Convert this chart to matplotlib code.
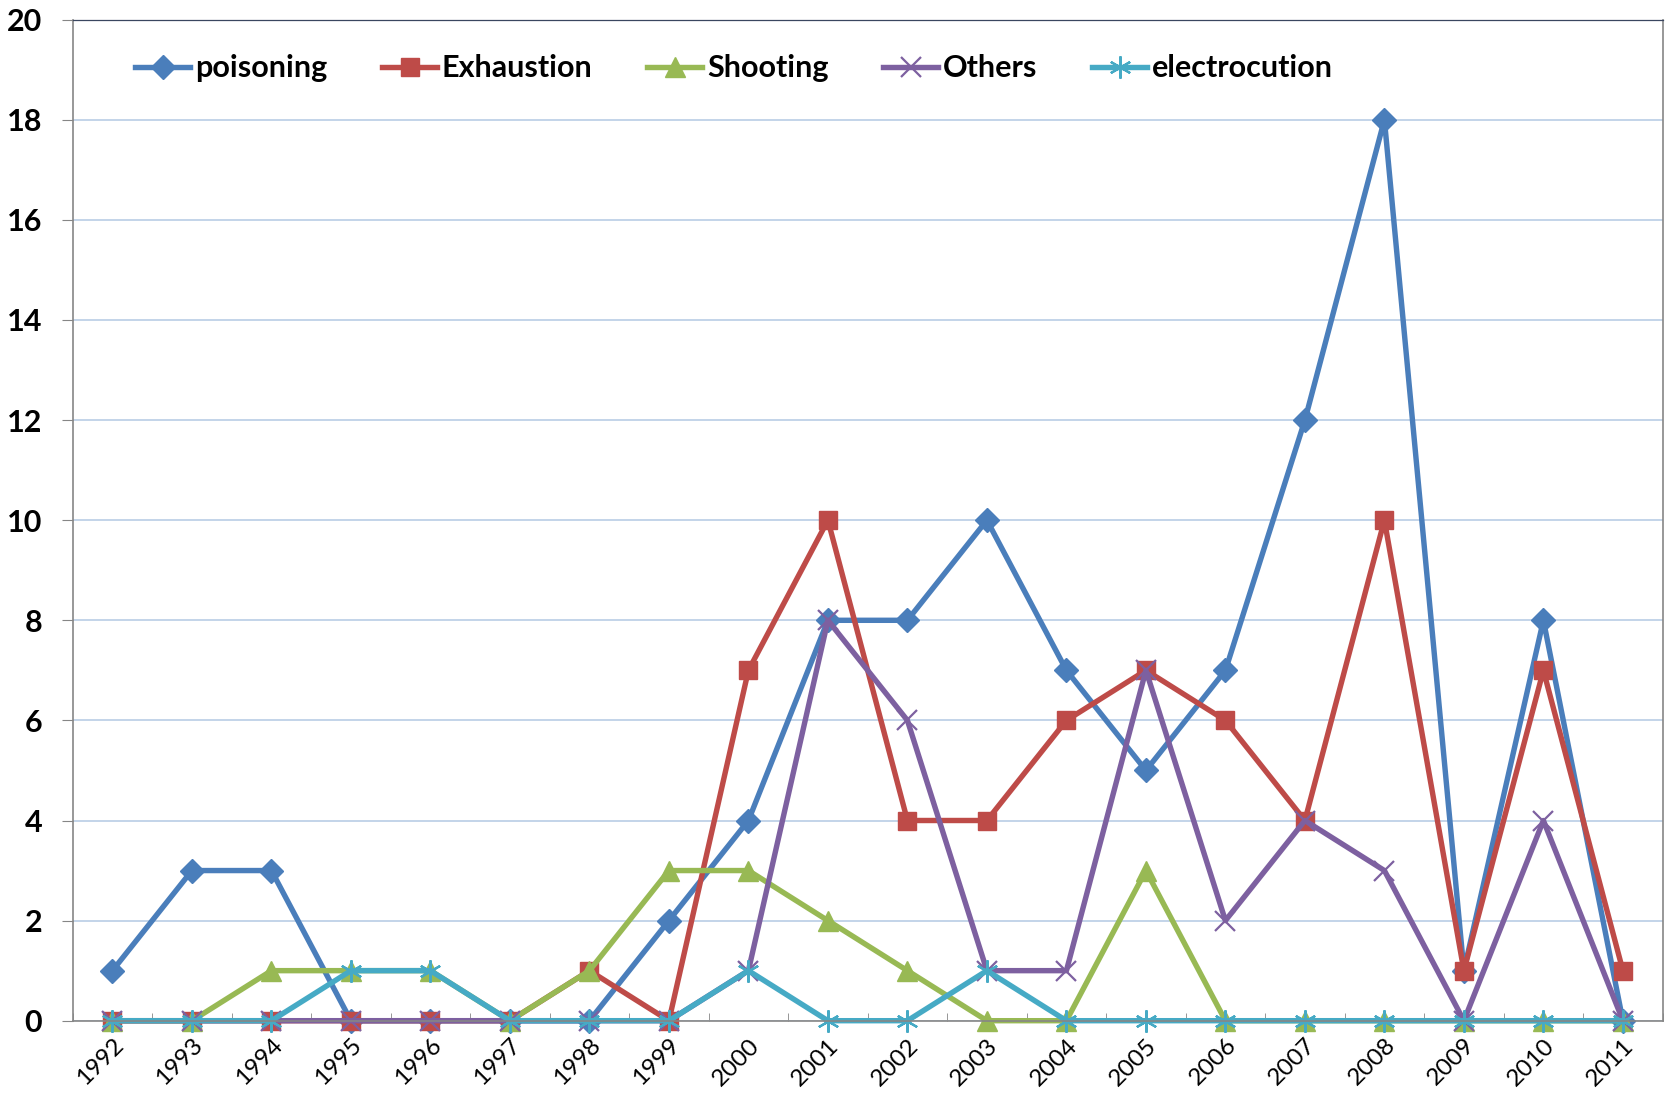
import matplotlib
matplotlib.use("Agg")
import matplotlib.pyplot as plt
from matplotlib.ticker import MultipleLocator, FixedLocator

plt.rcParams['font.family'] = ['Lato', 'DejaVu Sans']

years = list(range(1992, 2012))
poisoning = [1, 3, 3, 0, 0, 0, 0, 2, 4, 8, 8, 10, 7, 5, 7, 12, 18, 1, 8, 0]
exhaustion = [0, 0, 0, 0, 0, 0, 1, 0, 7, 10, 4, 4, 6, 7, 6, 4, 10, 1, 7, 1]
shooting = [0, 0, 1, 1, 1, 0, 1, 3, 3, 2, 1, 0, 0, 3, 0, 0, 0, 0, 0, 0]
others = [0, 0, 0, 0, 0, 0, 0, 0, 1, 8, 6, 1, 1, 7, 2, 4, 3, 0, 4, 0]
electrocution = [0, 0, 0, 1, 1, 0, 0, 0, 1, 0, 0, 1, 0, 0, 0, 0, 0, 0, 0, 0]

series = [
    ("poisoning", poisoning, "#4A7EBB", "D", 12),
    ("Exhaustion", exhaustion, "#BE4B48", "s", 13),
    ("Shooting", shooting, "#98B954", "^", 14),
    ("Others", others, "#7D60A0", "x", 14),
    ("electrocution", electrocution, "#46AAC5", (6, 2, 0), 16),
]

fig = plt.figure(figsize=(16.71, 10.94), dpi=100)
ax = fig.add_axes([0.0435, 0.067, 0.9515, 0.915])

x = list(range(len(years)))
for name, vals, col, mk, ms in series:
    thin = mk == "x" or isinstance(mk, tuple)
    ax.plot(x, vals, color=col, lw=3.9, marker=mk, markersize=ms,
            markeredgewidth=1.6 if thin else 1,
            markerfacecolor=col, markeredgecolor=col, label=name,
            clip_on=False)

ax.set_xlim(-0.5, len(years) - 0.5)
ax.set_ylim(0, 20)
ax.yaxis.set_major_locator(MultipleLocator(2))
ax.set_xticks(x)
ax.set_xticklabels([str(y) for y in years], rotation=45, ha='right',
                   rotation_mode='anchor', fontsize=17.5)
ax.xaxis.set_minor_locator(FixedLocator([i - 0.5 for i in range(len(years) + 1)]))
ax.tick_params(axis='x', which='major', length=0, pad=10)
ax.tick_params(axis='x', which='minor', length=6, color='#868686', direction='in')
ax.tick_params(axis='y', length=8, color='#868686', labelsize=22, pad=14)
for lab in ax.get_yticklabels():
    lab.set_fontweight('bold')

ax.grid(axis='y', color='#B9CDE5', lw=1.2)
ax.set_axisbelow(True)
for s in ('left', 'bottom', 'right'):
    ax.spines[s].set_color('#868686')
    ax.spines[s].set_linewidth(1.2)
ax.spines['top'].set_color('#3A4660')
ax.spines['top'].set_linewidth(0.9)

leg = ax.legend(loc='upper left', bbox_to_anchor=(0.022, 0.993), ncol=5, frameon=False,
                prop={'weight': 'bold', 'size': 22}, handlelength=1.8,
                handletextpad=0.15, columnspacing=1.8)

fig.savefig("out.png", dpi=100)
